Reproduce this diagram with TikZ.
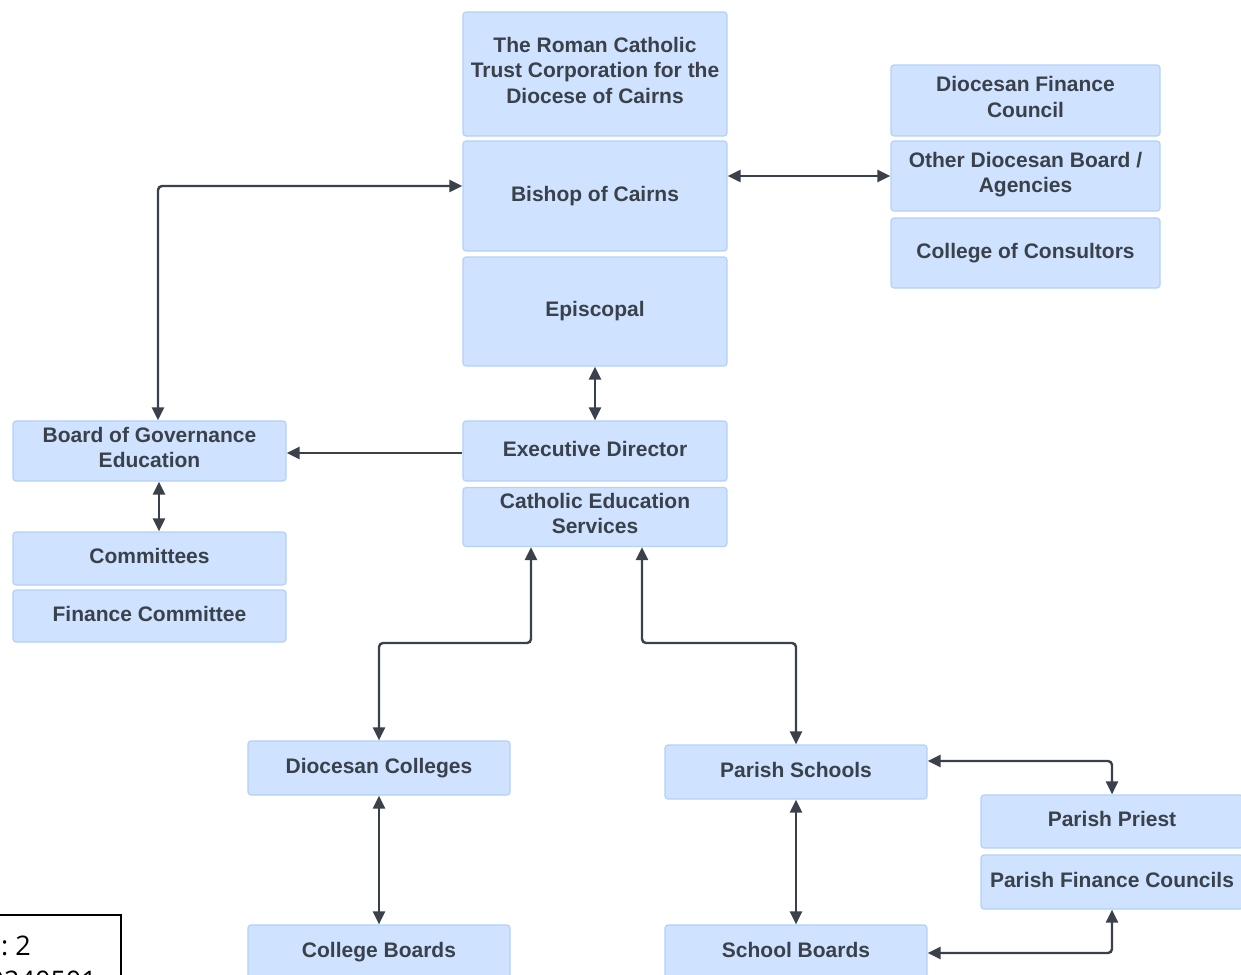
\documentclass[tikz,border=0pt]{standalone}
\usepackage{fontspec}
\setmainfont{Liberation Sans}
\newfontfamily\notefont{Open Sans}
\usetikzlibrary{arrows.meta}
\definecolor{boxfill}{HTML}{CFE2FF}
\definecolor{boxline}{HTML}{B3D1F9}
\definecolor{ink}{HTML}{3A414A}
\begin{document}
\begin{tikzpicture}[x=1pt,y=-1pt,
  orgbox/.style={draw=boxline, fill=boxfill, line width=1.2pt, rounded corners=3pt,
    text=ink, font=\fontsize{21}{25.5}\selectfont\bfseries, align=center, inner sep=0pt,
    execute at begin node=\strut, execute at end node=\strut},
  link/.style={draw=ink, line width=2.4pt, rounded corners=4pt},
  both/.style={link, {Triangle[length=13pt,width=12pt]}-{Triangle[length=13pt,width=12pt]}},
  one/.style={link, -{Triangle[length=13pt,width=12pt]}},
  notetext/.style={font=\notefont\fontsize{27}{33}\selectfont, text=black, inner sep=0pt}
]
\useasboundingbox (0,0) rectangle (1241,974);
\clip (0,0) rectangle (1241,974);

% central column
\node[orgbox, minimum width=264pt, minimum height=124pt] (trust) at (595,74)
  {The Roman Catholic\\Trust Corporation for the\\Diocese of Cairns};
\node[orgbox, minimum width=264pt, minimum height=110pt] (bishop) at (595,196) {Bishop of Cairns};
\node[orgbox, minimum width=264pt, minimum height=109pt] (episcopal) at (595,311.5) {Episcopal};
\node[orgbox, minimum width=264pt, minimum height=60pt] (exec) at (595,451) {Executive Director};
\node[orgbox, minimum width=264pt, minimum height=59pt] (ces) at (595,517) {Catholic Education\\Services};

% right column
\node[orgbox, minimum width=269pt, minimum height=71pt] (dfc) at (1025.5,100.5) {Diocesan Finance\\Council};
\node[orgbox, minimum width=269pt, minimum height=70pt] (odb) at (1025.5,176) {Other Diocesan Board /\\Agencies};
\node[orgbox, minimum width=269pt, minimum height=70pt] (coc) at (1025.5,253) {College of Consultors};

% left column
\node[orgbox, minimum width=273pt, minimum height=60pt] (bge) at (149.5,451) {Board of Governance\\Education};
\node[orgbox, minimum width=273pt, minimum height=53pt] (comm) at (149.5,558.5) {Committees};
\node[orgbox, minimum width=273pt, minimum height=52pt] (fincomm) at (149.5,616) {Finance Committee};

% lower part
\node[orgbox, minimum width=262pt, minimum height=54pt] (dcol) at (379,768) {Diocesan Colleges};
\node[orgbox, minimum width=262pt, minimum height=54pt] (cboards) at (379,952) {College Boards};
\node[orgbox, minimum width=262pt, minimum height=54pt] (pschools) at (796,772) {Parish Schools};
\node[orgbox, minimum width=262pt, minimum height=54pt] (sboards) at (796,952) {School Boards};
\node[orgbox, minimum width=262pt, minimum height=53pt] (ppriest) at (1112,821.5) {Parish Priest};
\node[orgbox, minimum width=262pt, minimum height=54pt] (pfc) at (1112,882) {Parish Finance Councils};

% connectors
\coordinate (busy) at (0,643);
\coordinate (edl) at ([yshift=-2pt]exec.west);
\draw[both] ([yshift=10pt]bishop.west) -| ([xshift=8.5pt]bge.north);
\draw[both] (bishop.east |- odb.west) -- (odb.west);
\draw[both] (episcopal.south) -- (exec.north);
\draw[one] (edl) -- (edl -| bge.east);
\draw[both] ([xshift=9.5pt]bge.south) -- ([xshift=9.5pt]comm.north);
\draw[both] ([xshift=-64pt]ces.south) |- (busy -| dcol.north) -- (dcol.north);
\draw[both] ([xshift=47pt]ces.south) |- (busy -| pschools.north) -- (pschools.north);
\draw[both] (dcol.south) -- (cboards.north);
\draw[both] (pschools.south) -- (sboards.north);
\draw[both] ([yshift=11pt]pschools.east) -| (ppriest.north);
\draw[both] ([yshift=-1pt]sboards.east) -| (pfc.south);

% note box in the corner
\draw[black, line width=1.5pt] (-10,915) rectangle (121,1010);
\node[notetext, anchor=base west] (note1) at (1,955) {:\hspace{7pt}2};
\node[notetext, anchor=base east] (note2) at (97,990) {0240501};
\end{tikzpicture}
\end{document}
